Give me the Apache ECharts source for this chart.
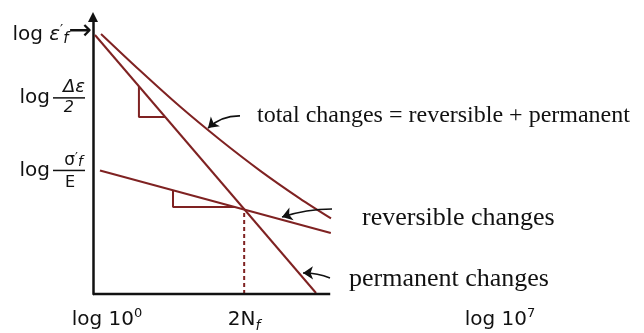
<!DOCTYPE html>
<html>
<head>
<meta charset="utf-8">
<script src="https://cdn.jsdelivr.net/npm/echarts@6/dist/echarts.min.js"></script>
<style>
html, body { margin: 0; padding: 0; background: #ffffff; }
#chart { width: 644px; height: 333px; }
</style>
</head>
<body>
<div id="chart"></div>
<script>
// Strain–life diagram on log–log axes.
// x: log of reversals to failure, y: log of strain amplitude (both in plain log units).
const elasticLine = [[0.12, 4.46], [4.09, 2.20]];     // reversible (elastic) strain
const plasticLine = [[0.034, 9.35], [3.836, 0.036]];  // permanent (plastic) strain
const totalCurve = [
  [0.138, 9.386], [0.808, 8.065], [1.496, 6.765], [2.184, 5.567],
  [2.872, 4.455], [3.560, 3.444], [4.093, 2.729]
];
const transitionPoint = [2.6, 3.05];                  // where the two straight lines cross
const plasticSlopeMark = [[0.79, 7.50], [0.79, 6.39], [1.24, 6.39]];
const elasticSlopeMark = [[1.376, 3.745], [1.376, 3.14], [2.44, 3.14]];
const xAxisEnd = 4.08;

const xTickValues = [0, transitionPoint[0], 7];
const xTickLabels = ['{pl|}{t|log 10}{sup|0}', '{t|2N}{sb|f}', '{t|log 10}{sup|7}'];
const yTickValues = [9.35, 7.08, 4.46];
const yTickLabels = [
  '{lg|log }{ge|ε}{pr|′}{sb|f}{ar|→}',
  '{nm|Δε}{rs|}\n{lg2|log}{gp|}{br|}{rs|}\n{dn|2}{rs|}',
  '{nm2|σ}{np|′}{ns|f}{rs|}\n{lg2|log}{gp|}{br|}{rs|}\n{dn2|E}{rs|}'
];

// pointer arrows: [tail, head] with curvature
const pointerCoords = [
  [[2.528, 6.43], [1.978, 5.99]],
  [[4.111, 3.069], [3.251, 2.78]],
  [[4.076, 0.578], [3.612, 0.758]]
];
const pointerCurveness = [-0.2, -0.08, -0.1];

const curveColor = '#7f2222';
const inkColor = '#111111';
const sans = '"DejaVu Sans"';
const serif = '"Liberation Serif"';

function pickLabel(values, labels, v) {
  let best = 0;
  for (let i = 1; i < values.length; i++) {
    if (Math.abs(values[i] - v) < Math.abs(values[best] - v)) best = i;
  }
  return labels[best];
}

const chart = echarts.init(document.getElementById('chart'), null, { renderer: 'canvas' });

const straight = (name, data, extra) => Object.assign({
  type: 'line', name, data, symbol: 'none', clip: false, silent: true,
  lineStyle: { color: curveColor, width: 2 }, animation: false
}, extra || {});

chart.setOption({
  animation: false,
  backgroundColor: '#ffffff',
  grid: { left: 93, right: 144, top: 17, bottom: 39, containLabel: false, outerBoundsMode: 'none' },
  xAxis: {
    type: 'value', min: 0, max: 7,
    axisLine: { show: false },
    axisTick: { show: false },
    splitLine: { show: false },
    axisLabel: {
      customValues: xTickValues,
      margin: 13,
      color: inkColor,
      formatter: (v) => pickLabel(xTickValues, xTickLabels, v),
      rich: {
        pl: { width: 28, height: 1 },
        t: { fontFamily: sans, fontSize: 20, lineHeight: 26, color: inkColor, verticalAlign: 'middle' },
        sup: { fontFamily: sans, fontSize: 13, color: inkColor, verticalAlign: 'top' },
        sb: { fontFamily: sans, fontSize: 14, fontStyle: 'italic', color: inkColor, verticalAlign: 'bottom' }
      }
    }
  },
  yAxis: {
    type: 'value', min: 0, max: 10,
    axisLine: {
      show: true,
      symbol: ['none', 'triangle'],
      symbolSize: [10, 10],
      lineStyle: { color: inkColor, width: 2.5 }
    },
    axisTick: { show: false },
    splitLine: { show: false },
    axisLabel: {
      customValues: yTickValues,
      margin: 1,
      color: inkColor,
      formatter: (v) => pickLabel(yTickValues, yTickLabels, v),
      rich: {
        lg: { fontFamily: sans, fontSize: 20, lineHeight: 24, color: inkColor, verticalAlign: 'middle' },
        ge: { fontFamily: sans, fontSize: 20, fontStyle: 'italic', color: inkColor, verticalAlign: 'middle' },
        pr: { fontFamily: sans, fontSize: 14, color: inkColor, verticalAlign: 'top' },
        sb: { fontFamily: sans, fontSize: 15, fontStyle: 'italic', color: inkColor, verticalAlign: 'bottom' },
        ar: { fontFamily: sans, fontSize: 28, lineHeight: 24, color: inkColor, verticalAlign: 'middle', padding: [0, 0, 6, 0] },
        nm: { fontFamily: sans, fontSize: 18, fontStyle: 'italic', lineHeight: 18, color: inkColor, verticalAlign: 'bottom', padding: [0, 0, 0, 0] },
        dn: { fontFamily: sans, fontSize: 16, fontStyle: 'italic', lineHeight: 18, color: inkColor, verticalAlign: 'top', padding: [0, 11, 0, 0] },
        nm2: { fontFamily: sans, fontSize: 17, lineHeight: 18, color: inkColor, verticalAlign: 'bottom' },
        np: { fontFamily: sans, fontSize: 13, color: inkColor, verticalAlign: 'top' },
        ns: { fontFamily: sans, fontSize: 14, fontStyle: 'italic', color: inkColor, verticalAlign: 'bottom', padding: [0, 2, 0, 0] },
        dn2: { fontFamily: sans, fontSize: 16, lineHeight: 18, color: inkColor, verticalAlign: 'top', padding: [3, 10, 0, 0] },
        lg2: { fontFamily: sans, fontSize: 20, lineHeight: 3, color: inkColor, verticalAlign: 'middle' },
        gp: { width: 3, height: 1 },
        br: { width: 32, height: 1.5, lineHeight: 3, backgroundColor: inkColor },
        rs: { width: 7, height: 1 }
      }
    }
  },
  series: [
    // horizontal axis line, stopping short of the frame's right edge
    straight('axis', [[0, 0], [xAxisEnd, 0]], { lineStyle: { color: inkColor, width: 2.5 }, z: 5 }),
    straight('total', totalCurve, { smooth: 0.3 }),
    straight('permanent', plasticLine),
    straight('reversible', elasticLine),
    straight('permanent slope', plasticSlopeMark),
    straight('reversible slope', elasticSlopeMark),
    straight('transition', [[transitionPoint[0], 0], transitionPoint], {
      lineStyle: { color: curveColor, width: 2, type: [4, 3] }
    }),
    {
      type: 'lines',
      coordinateSystem: 'cartesian2d',
      silent: true,
      symbol: ['none', 'arrow'],
      symbolSize: 10,
      lineStyle: { color: inkColor, width: 1.6, opacity: 1 },
      data: pointerCoords.map((c, i) => ({ coords: c, lineStyle: { curveness: pointerCurveness[i] } })),
      z: 6
    }
  ],
  graphic: [
    { type: 'text', x: 257, y: 116, style: { text: 'total changes = reversible + permanent', font: '24px ' + serif, fill: inkColor, verticalAlign: 'middle' } },
    { type: 'text', x: 362, y: 218, style: { text: 'reversible changes', font: '26px ' + serif, fill: inkColor, verticalAlign: 'middle' } },
    { type: 'text', x: 349, y: 279, style: { text: 'permanent changes', font: '26px ' + serif, fill: inkColor, verticalAlign: 'middle' } }
  ]
});
</script>
</body>
</html>
